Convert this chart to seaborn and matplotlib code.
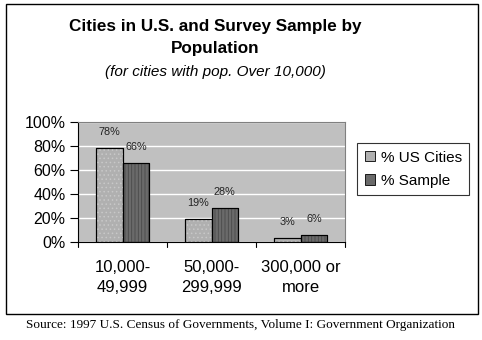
import matplotlib
matplotlib.use("Agg")
import matplotlib.pyplot as plt
import matplotlib.patches as mpatches
import seaborn as sns
import pandas as pd

categories = ["10,000-\n49,999", "50,000-\n299,999", "300,000 or\nmore"]
series = ["% US Cities", "% Sample"]
us_cities = [78, 19, 3]
sample = [66, 28, 6]
y_ticks = [0, 20, 40, 60, 80, 100]
title = "Cities in U.S. and Survey Sample by\nPopulation"
subtitle = "(for cities with pop. Over 10,000)"
source = "Source: 1997 U.S. Census of Governments, Volume I: Government Organization"

df = pd.DataFrame({
    "cat": categories * 2,
    "series": [series[0]] * 3 + [series[1]] * 3,
    "value": us_cities + sample,
})

sns.set_style("white")
plt.rcParams["font.family"] = ["Liberation Sans", "DejaVu Sans"]
plt.rcParams["text.color"] = "black"
plt.rcParams["xtick.color"] = "black"
plt.rcParams["ytick.color"] = "black"
plt.rcParams["xtick.labelcolor"] = "black"
plt.rcParams["ytick.labelcolor"] = "black"
plt.rcParams["hatch.linewidth"] = 0.6

fig = plt.figure(figsize=(4.82, 3.40), dpi=100)
ax = fig.add_axes([78 / 482, 1 - 242 / 340, 267 / 482, 120 / 340])

colors = {"% US Cities": "#b0b0b0", "% Sample": "#6a6a6a"}
hatch_cfg = {"% US Cities": ("....", "#c8c8c8"), "% Sample": ("|||||", "#4a4a4a")}

sns.barplot(data=df, x="cat", y="value", hue="series", order=categories,
            hue_order=series, palette=colors, width=0.6, edgecolor="black",
            linewidth=0.8, saturation=1, ax=ax, legend=False)

ax.set_facecolor("#c0c0c0")
ax.set_ylim(0, 100)
ax.set_xlim(-0.5, 2.5)
ax.set_yticks(y_ticks)
ax.set_yticklabels([f"{t}%" for t in y_ticks], fontsize=11.5)
ax.yaxis.grid(True, color="white", linewidth=1)
ax.set_axisbelow(True)
ax.set_xlabel("")
ax.set_ylabel("")

ax.set_xticks([0, 1, 2])
ax.set_xticklabels(categories, fontsize=12, linespacing=1.4)
ax.tick_params(axis="x", length=0, pad=13)
for b in [-0.5, 0.5, 1.5, 2.5]:
    ax.plot([b, b], [0, -0.045], transform=ax.get_xaxis_transform(),
            color="black", linewidth=0.8, clip_on=False)
ax.tick_params(axis="y", length=6, width=0.8, color="black", pad=3, left=True)

for s in ["top", "right"]:
    ax.spines[s].set_color("#808080")
    ax.spines[s].set_linewidth(0.8)
for s in ["left", "bottom"]:
    ax.spines[s].set_color("black")
    ax.spines[s].set_linewidth(0.8)

for container, name in zip(ax.containers, series):
    h, hc = hatch_cfg[name]
    for bar in container:
        r = mpatches.Rectangle((bar.get_x(), bar.get_y()), bar.get_width(), bar.get_height(),
                               fill=False, hatch=h, edgecolor=hc, linewidth=0, zorder=bar.get_zorder() + 0.1)
        ax.add_patch(r)
        outline = mpatches.Rectangle((bar.get_x(), bar.get_y()), bar.get_width(), bar.get_height(),
                                     fill=False, edgecolor="black", linewidth=0.8, zorder=bar.get_zorder() + 0.2)
        ax.add_patch(outline)
    ax.bar_label(container, labels=[f"{int(v)}%" for v in container.datavalues],
                 padding=8, fontsize=7.8, color="#222222")

handles = []
for name in series:
    handles.append(mpatches.Patch(facecolor=colors[name], edgecolor="black", linewidth=0.6, label=name))
leg = fig.legend(handles=handles, loc="upper left", bbox_to_anchor=(357 / 482, 1 - 143 / 340),
                 frameon=True, fontsize=11, handlelength=0.65, handleheight=0.65,
                 handletextpad=0.4, borderpad=0.5, labelspacing=0.6, fancybox=False,
                 borderaxespad=0)
leg.get_frame().set_edgecolor("black")
leg.get_frame().set_linewidth(0.8)

fig.text(215 / 482, 1 - 37.5 / 340, title, ha="center", va="center", fontsize=12.3,
         fontweight="bold", linespacing=1.5)
fig.text(215 / 482, 1 - 72 / 340, subtitle, ha="center", va="center", fontsize=11,
         style="italic")

fig.add_artist(mpatches.Rectangle((6 / 482, 1 - 314 / 340), 472 / 482, 310 / 340,
                                  transform=fig.transFigure, fill=False, edgecolor="black",
                                  linewidth=1))
fig.text(241 / 482, 1 - 325 / 340, source, ha="center", va="center", fontsize=9.5,
         family=["Liberation Serif", "DejaVu Serif"])

fig.savefig("out.png", dpi=100)
